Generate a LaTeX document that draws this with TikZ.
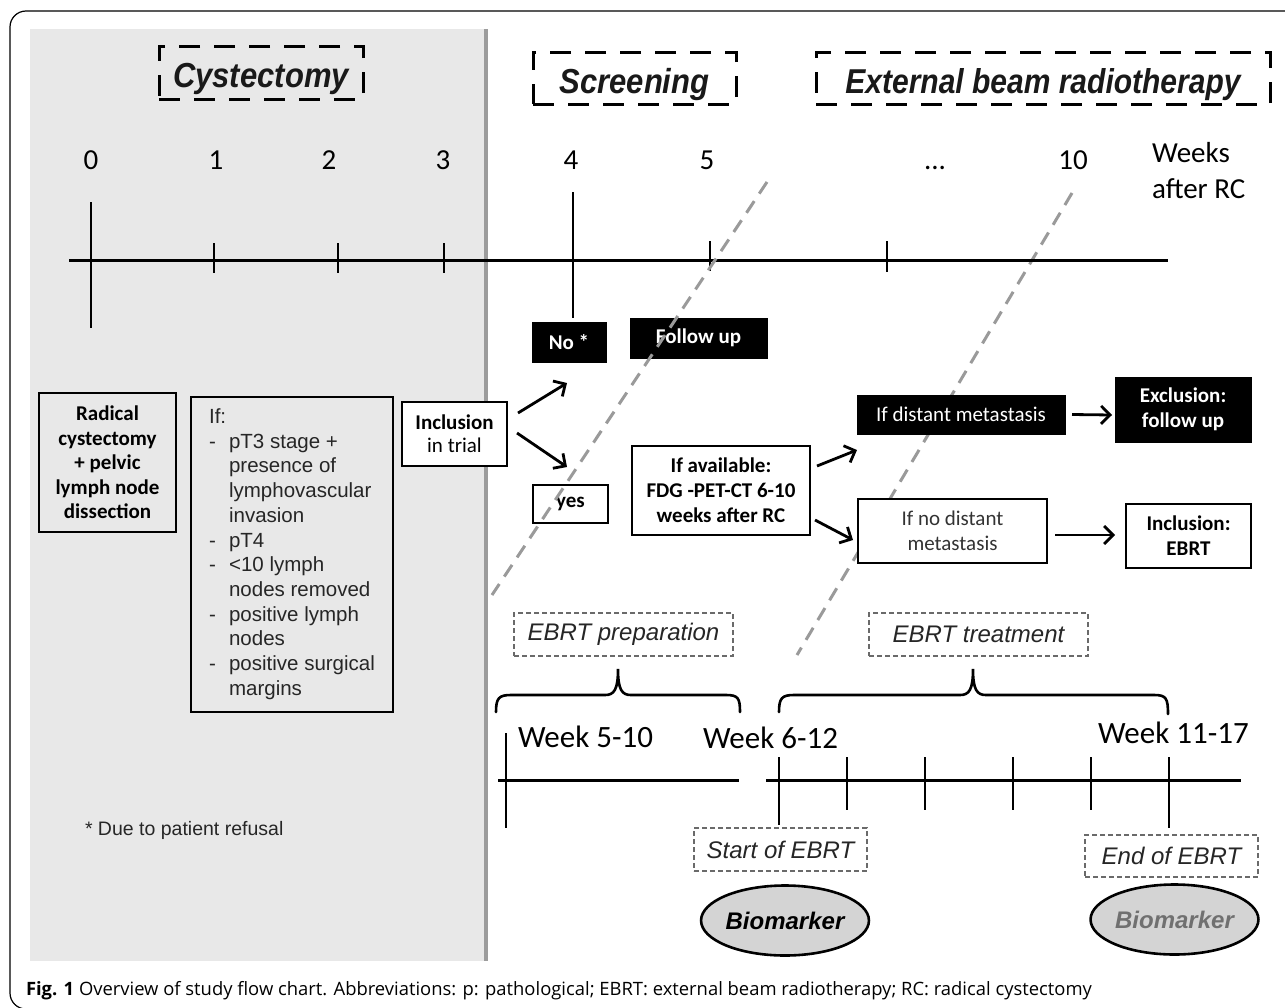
\documentclass[tikz,border=0pt]{standalone}
\usepackage{fontspec}
\setmainfont{Carlito}
\newfontfamily\arialf{Liberation Sans}
\newfontfamily\capf{Open Sans}
\usetikzlibrary{arrows.meta,calc,shapes.geometric}
\newcommand\fsz[2]{\fontsize{#1}{#2}\selectfont}
\definecolor{panelgray}{HTML}{E8E8E8}
\definecolor{divgray}{HTML}{9C9C9C}
\definecolor{diaggray}{HTML}{9A9A9A}
\definecolor{thindash}{HTML}{6A6A6A}
\definecolor{ellgray}{HTML}{D4D4D4}
\definecolor{biotext}{HTML}{707070}
\begin{document}
\begin{tikzpicture}[x=1pt,y=-1pt,
  every node/.style={inner sep=0pt,outer sep=0pt},
  tline/.style={line width=3pt},
  tickmark/.style={line width=2.8pt},
  hbox/.style={draw,line width=3pt,dash pattern=on 21pt off 14pt,text=black!90,font=\arialf\bfseries\itshape\fsz{31}{36},text height=30pt,text depth=0pt},
  wbox/.style={draw,line width=2.6pt,fill=white,align=center},
  obox/.style={draw,line width=2.6pt,align=center},
  bbox/.style={draw=black,line width=1pt,fill=black,text=white,align=center},
  tbox/.style={draw=thindash,line width=1.6pt,dash pattern=on 5pt off 3pt,font=\arialf\itshape\fsz{24}{28},text=black!85},
  arr/.style={line width=2.8pt,-{Straight Barb[length=9pt,width=18pt]}},
  diag/.style={draw=diaggray,line width=3pt,dash pattern=on 14pt off 9pt},
  wk/.style={font=\fsz{29}{34}},
  bioell/.style={ellipse,draw,line width=2.6pt,fill=ellgray,minimum width=154pt,minimum height=70pt,font=\arialf\bfseries\itshape\fsz{24}{28}},
  brace/.style={line width=2.6pt,line cap=round}
]
% canvas
\fill[white] (0,0) rectangle (1285,1007);
\useasboundingbox (0,0) rectangle (1285,1007);
\draw[line width=1.2pt,rounded corners=16pt] (10,11) rectangle (1330,1009);
\fill[panelgray] (30,29) rectangle (486,961);
\draw[divgray,line width=4pt] (486,29) -- (486,961);

% headers
\node[hbox,minimum width=204pt,minimum height=53pt] (hcys) at (261,72.5) {\scalebox{1}[1.12]{Cystectomy}};
\node[hbox,minimum width=203pt,minimum height=52pt] (hscr) at (634.5,78) {\scalebox{1}[1.12]{Screening}};
\node[hbox,minimum width=454pt,minimum height=52pt,font=\arialf\bfseries\itshape\fsz{30}{34}] (hext) at (1043,78) {\scalebox{1}[1.15]{External beam radiotherapy}};

% week numbers
\node[wk,anchor=base] (w0) at (91,169) {0};
\node[wk,anchor=base] (w1) at (216,169) {1};
\node[wk,anchor=base] (w2) at (329,169) {2};
\node[wk,anchor=base] (w3) at (443,169) {3};
\node[wk,anchor=base] (w4) at (571,169) {4};
\node[wk,anchor=base] (w5) at (707,169) {5};
\node[wk,anchor=base] (wdots) at (935,169) {...};
\node[wk,anchor=base] (w10) at (1073,169) {10};
\node[wk,anchor=base west] (wks) at (1152,162) {Weeks};
\node[wk,anchor=base west] (wrc) at (1152,198) {after RC};

% second diagonal (behind boxes)
\draw[diag] (1072,193) -- (797,655);

% main timeline
\draw[tline] (69,260) -- (1168,260);
\draw[tickmark] (91,202) -- (91,328);
\draw[tickmark] (214,243) -- (214,273);
\draw[tickmark] (338,243) -- (338,273);
\draw[tickmark] (444,243) -- (444,273);
\draw[tickmark] (573,192) -- (573,318);
\draw[tickmark] (710,241) -- (710,271);
\draw[tickmark] (887,241) -- (887,272);

% boxes
\node[obox,font=\bfseries\fsz{21}{24.5},minimum width=137pt,minimum height=139pt] (rc) at (107.5,462.5)
  {Radical\\cystectomy\\+ pelvic\\lymph node\\dissection};
\node[obox,minimum width=202pt,minimum height=315pt,font=\arialf\fsz{20.5}{24.7},text=black!85] (ifb) at (292,554.5)
  {\begin{tabular}{@{}p{20pt}@{}l@{}}
   \multicolumn{2}{@{}l@{}}{If:}\\
   -&pT3 stage +\\
   &presence of\\
   &lymphovascular\\
   &invasion\\
   -&pT4\\
   -&<10 lymph\\
   &nodes removed\\
   -&positive lymph\\
   &nodes\\
   -&positive surgical\\
   &margins
   \end{tabular}};
\node[wbox,font=\fsz{21}{23},minimum width=105pt,minimum height=64pt] (incl) at (454.5,434) {\textbf{Inclusion}\\in trial};
\node[bbox,font=\bfseries\fsz{21}{24},minimum width=74pt,minimum height=40pt] (no) at (569,342) {No *};
\node[bbox,font=\bfseries\fsz{21}{24},minimum width=137pt,minimum height=40pt] (fu) at (698.5,338) {Follow up};
\node[wbox,font=\bfseries\fsz{21}{24},minimum width=75pt,minimum height=38pt] (yes) at (570.5,504) {yes};
\node[wbox,font=\bfseries\fsz{21}{25},minimum width=178pt,minimum height=89pt] (fdg) at (721,490.5) {If available:\\FDG -PET-CT 6-10\\weeks after RC};
\node[bbox,font=\fsz{21}{24},minimum width=208pt,minimum height=39pt] (dist) at (961,414.5) {If distant metastasis};
\node[bbox,font=\bfseries\fsz{21}{25},minimum width=136pt,minimum height=65pt] (excl) at (1183,409.5) {Exclusion:\\follow up};
\node[wbox,font=\fsz{21}{25},text=black!80,minimum width=189pt,minimum height=64pt] (nodist) at (952.5,531) {If no distant\\metastasis};
\node[wbox,font=\bfseries\fsz{21}{25},minimum width=125pt,minimum height=64pt] (incle) at (1188.5,536) {Inclusion:\\EBRT};

% first diagonal (over boxes)
\draw[diag] (767,182) -- (492,595);

% arrows
\coordinate (a1s) at (518,413); \coordinate (a1e) at (567,383);
\coordinate (a2s) at (517,433); \coordinate (a2e) at (567,467);
\coordinate (a3s) at (817,466); \coordinate (a3e) at (857,450);
\coordinate (a4s) at (815,520); \coordinate (a4e) at (853,540);
\draw[arr] (a1s) -- (a1e);
\draw[arr] (a2s) -- (a2e);
\draw[arr] (a3s) -- (a3e);
\draw[arr] (a4s) -- (a4e);
\draw[arr] (dist.east) ++(7,0) coordinate (a5s) -- ($(excl.west)+(-3,5.5)$);
\draw[arr] (nodist.east) ++(8,4) coordinate (a6s) -- ($(incle.west)+(-11,-1)$);

% lower section
\node[tbox,minimum width=219pt,minimum height=43pt] (prep) at (623.5,634.5) {EBRT preparation};
\node[tbox,minimum width=219pt,minimum height=43pt] (treat) at (978.5,634.5) {EBRT treatment};

\draw[brace] (496,712) .. controls (496,698) and (499,695) .. (511,695) -- (605,695)
  .. controls (614,695) and (618,690) .. (618,669)
  .. controls (618,690) and (622,695) .. (631,695) -- (726,695)
  .. controls (738,695) and (740,698) .. (740,712);
\draw[brace] (779,712) .. controls (779,698) and (782,695) .. (794,695) -- (960,695)
  .. controls (969,695) and (973,690) .. (973,669)
  .. controls (973,690) and (977,695) .. (986,695) -- (1154,695)
  .. controls (1166,695) and (1168,698) .. (1168,714);

\node[font=\fsz{31}{36},anchor=base west] (wa) at (518,747) {Week 5-10};
\node[font=\fsz{31}{36},anchor=base west] (wb) at (703,748) {Week 6-12};
\node[font=\fsz{31}{36},anchor=base west] (wc) at (1098,743) {Week 11-17};

\draw[tline] (498,780) -- (739,780);
\draw[tline] (766,780) -- (1241,780);
\draw[tickmark] (506,733) -- (506,828);
\draw[tickmark] (779,757) -- (779,825);
\draw[tickmark] (847,757) -- (847,810);
\draw[tickmark] (925,757) -- (925,810);
\draw[tickmark] (1013,757) -- (1013,810);
\draw[tickmark] (1091,757) -- (1091,810);
\draw[tickmark] (1169,757) -- (1169,828);

\node[tbox,minimum width=173pt,minimum height=43pt] (start) at (780.5,849.5) {Start of EBRT};
\node[tbox,minimum width=173pt,minimum height=42pt] (endb) at (1171.5,856) {End of EBRT};
\node[bioell] (bio1) at (785,920.5) {Biomarker};
\node[bioell,text=biotext] (bio2) at (1174.5,919.5) {Biomarker};

\node[font=\arialf\fsz{19.5}{23},anchor=west,text=black!85] (foot) at (85,830) {* Due to patient refusal};

\node[anchor=base west,font=\capf\fsz{18.4}{22}] (cap) at (26,995) {\textbf{Fig. 1} Overview of study flow chart. Abbreviations: p: pathological; EBRT: external beam radiotherapy; RC: radical cystectomy};
\end{tikzpicture}
\end{document}
